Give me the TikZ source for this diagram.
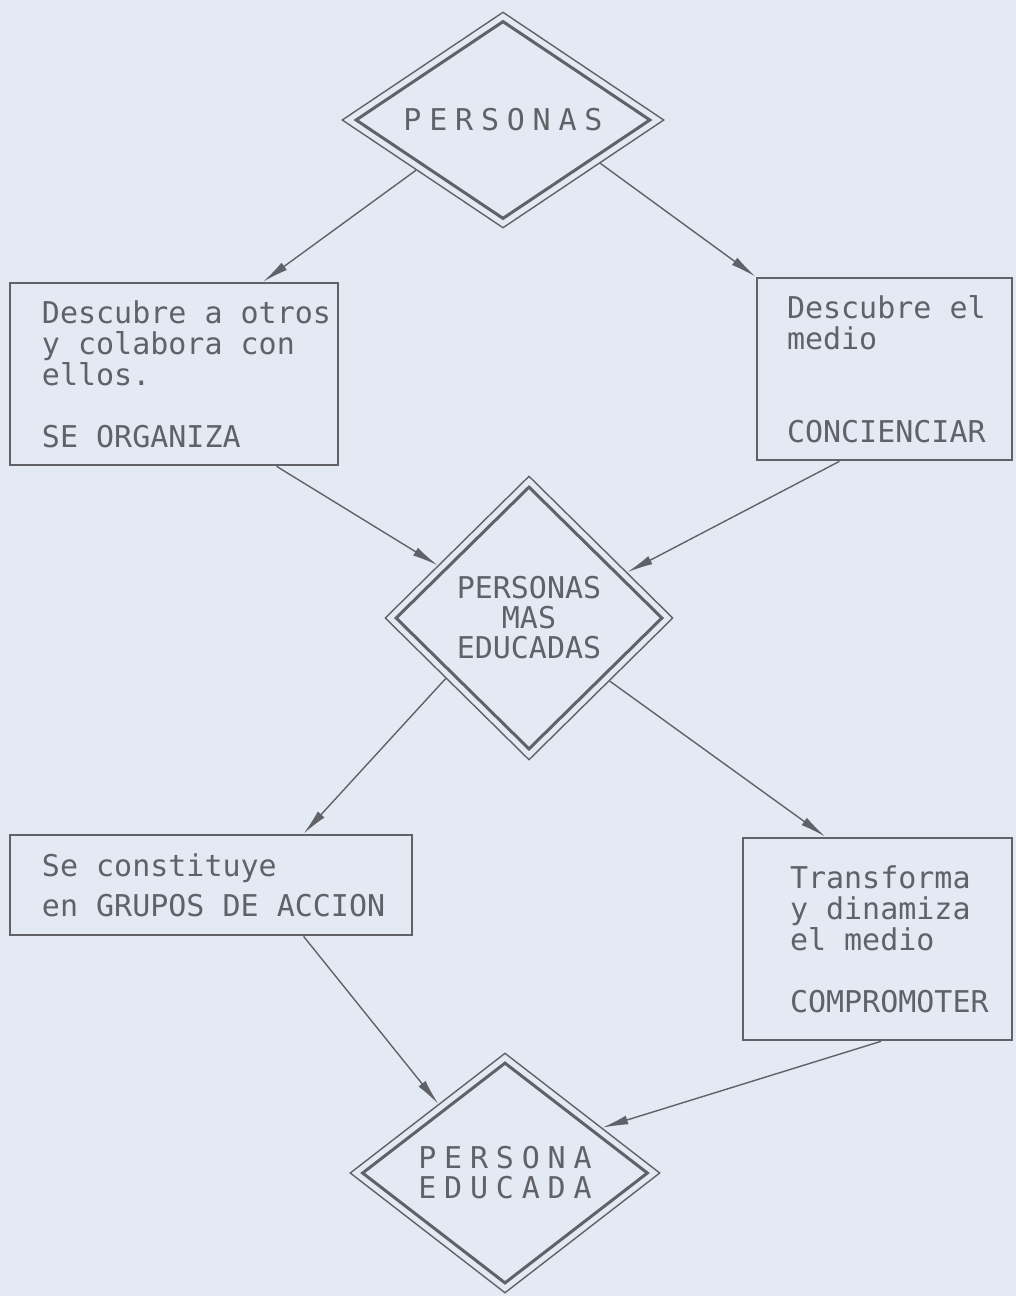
\documentclass[tikz,border=0pt]{standalone}
\usepackage{fontspec}
\setmainfont{DejaVu Sans Mono}
\newfontfamily\spacedfont[LetterSpace=26]{DejaVu Sans Mono}
\usetikzlibrary{positioning,calc,shapes.geometric,arrows.meta}
\definecolor{paper}{RGB}{228,234,243}
\definecolor{pencil}{RGB}{96,98,104}

\begin{document}
\begin{tikzpicture}[x=1pt,y=-1pt]
  \fill[paper] (0,0) rectangle (1016,1296);
  \useasboundingbox (0,0) rectangle (1016,1296);
  % boxes
  \begin{scope}[
    every node/.style={
      rectangle,
      draw=pencil,
      text=pencil,
      line width=2.6pt,
      align=left,
      inner xsep=0pt,
      font=\fontsize{30}{31}\selectfont,
    },
    pad/.style={execute at begin node={%
        \leftskip=#1\spaceskip=18.06pt\xspaceskip=18.06pt\relax}},
    ]
    \node[pad=32pt,text width=328pt,minimum height=182pt] (otros) at (174,374)
      {Descubre a otros\\y colabora con\\ellos.\\[31pt]SE ORGANIZA};
    \node[pad=30pt,text width=255pt,minimum height=182pt] (concienciar) at (884.5,369)
      {Descubre el\\medio\\[62pt]CONCIENCIAR};
    \node[pad=32pt,text width=402pt,minimum height=100pt,
      font=\fontsize{30}{40}\selectfont] (accion) at (211,885)
      {Se constituye\\en GRUPOS DE ACCION};
    \node[pad=47pt,text width=269pt,minimum height=202pt] (transforma) at (877.5,939)
      {Transforma\\y dinamiza\\el medio\\[31pt]COMPROMOTER};
  \end{scope}
  % diamonds
  \begin{scope}[
    every node/.style={
      diamond,
      draw=pencil,
      text=pencil,
      inner sep=0pt,
    },
    outer/.style={line width=1.4pt},
    inner/.style={line width=3pt,align=center,font=\fontsize{30}{30}\selectfont},
    ]
    \node[outer,minimum width=322pt,minimum height=216pt] (personas) at (503,120) {};
    \node[inner,minimum width=295pt,minimum height=198pt,shape aspect=1.5]
      (personas-in) at (personas) {\spacedfont PERSONAS};
    \node[outer,minimum width=288pt,minimum height=284pt] (mas) at (529,618) {};
    \node[inner,minimum width=267pt,minimum height=263pt,shape aspect=1]
      (mas-in) at (mas) {PERSONAS\\MAS\\EDUCADAS};
    \node[outer,minimum width=310pt,minimum height=240pt] (educada) at (505,1173) {};
    \node[inner,minimum width=286pt,minimum height=221pt,shape aspect=1.29]
      (educada-in) at (educada) {\spacedfont PERSONA\\\spacedfont EDUCADA};
  \end{scope}
  % connectors
  \begin{scope}[
    every edge/.append style={draw=pencil,line width=1.4pt},
    >={Latex[length=26pt,width=9pt]},
    ]
    \path[->]
    (personas.210)     edge (otros.46)
    (personas.-24)     edge (concienciar.north west)
    (otros.-42)        edge (mas.150)
    (concienciar.-116) edge (mas.25)
    (mas.216)          edge (accion.29)
    (mas.-38)          edge (transforma.117)
    (accion.-29)       edge (educada.134)
    (transforma.-88)   edge (educada.25);
  \end{scope}
\end{tikzpicture}
\end{document}
